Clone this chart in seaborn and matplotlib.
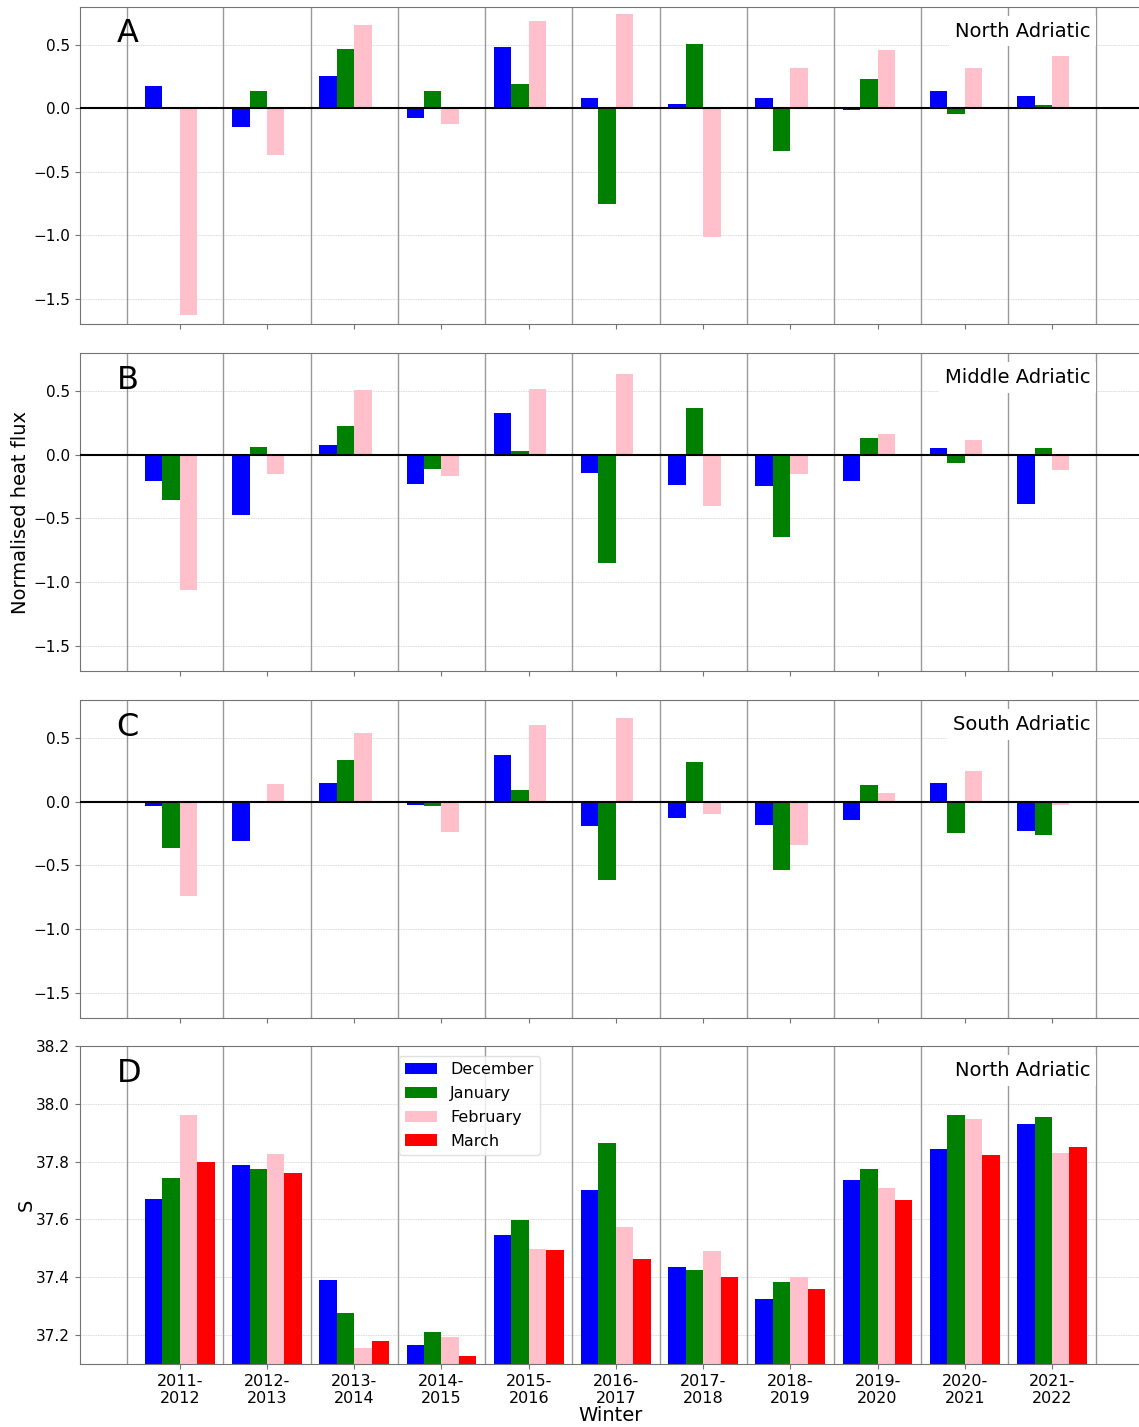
import numpy as np
import pandas as pd
import matplotlib
matplotlib.use("Agg")
import matplotlib.pyplot as plt
import seaborn as sns

# Winters on the x axis
winters = ["2011-\n2012", "2012-\n2013", "2013-\n2014", "2014-\n2015", "2015-\n2016",
           "2016-\n2017", "2017-\n2018", "2018-\n2019", "2019-\n2020", "2020-\n2021",
           "2021-\n2022"]
months = ["December", "January", "February", "March"]
month_colors = ["blue", "green", "pink", "red"]

# A: normalised heat flux, North Adriatic
north_dec = [0.18, -0.147, 0.259, -0.079, 0.484, 0.086, 0.034, 0.079, -0.01, 0.141, 0.102]
north_jan = [0.005, 0.139, 0.469, 0.134, 0.191, -0.754, 0.508, -0.335, 0.236, -0.045, 0.029]
north_feb = [-1.63, -0.364, 0.657, -0.12, 0.691, 0.743, -1.013, 0.319, 0.458, 0.322, 0.416]

# B: normalised heat flux, Middle Adriatic
middle_dec = [-0.206, -0.471, 0.079, -0.23, 0.331, -0.143, -0.238, -0.243, -0.206, 0.053, -0.389]
middle_jan = [-0.352, 0.063, 0.23, -0.111, 0.029, -0.854, 0.365, -0.646, 0.135, -0.061, 0.053]
middle_feb = [-1.066, -0.153, 0.511, -0.169, 0.519, 0.632, -0.405, -0.148, 0.161, 0.116, -0.122]

# C: normalised heat flux, South Adriatic
south_dec = [-0.037, -0.306, 0.149, -0.026, 0.364, -0.188, -0.131, -0.181, -0.144, 0.144, -0.23]
south_jan = [-0.361, 0.003, 0.325, -0.031, 0.092, -0.618, 0.312, -0.537, 0.128, -0.243, -0.262]
south_feb = [-0.741, 0.139, 0.542, -0.238, 0.605, 0.66, -0.099, -0.338, 0.071, 0.243, -0.024]

# D: salinity, North Adriatic
sal_dec = [37.672, 37.79, 37.389, 37.164, 37.546, 37.702, 37.434, 37.326, 37.737, 37.842, 37.93]
sal_jan = [37.742, 37.776, 37.277, 37.211, 37.597, 37.864, 37.426, 37.382, 37.776, 37.962, 37.954]
sal_feb = [37.96, 37.825, 37.156, 37.195, 37.497, 37.573, 37.491, 37.401, 37.709, 37.946, 37.83]
sal_mar = [37.80, 37.761, 37.181, 37.126, 37.494, 37.464, 37.401, 37.361, 37.666, 37.822, 37.85]

panel_letters = ["A", "B", "C", "D"]
region_names = ["North Adriatic", "Middle Adriatic", "South Adriatic", "North Adriatic"]


def long_table(series):
    rows = []
    for month, vals in series.items():
        for w, v in zip(winters, vals):
            rows.append({"winter": w, "month": month, "value": v})
    return pd.DataFrame(rows)


tables = [
    long_table({"December": north_dec, "January": north_jan, "February": north_feb}),
    long_table({"December": middle_dec, "January": middle_jan, "February": middle_feb}),
    long_table({"December": south_dec, "January": south_jan, "February": south_feb}),
    long_table({"December": sal_dec, "January": sal_jan, "February": sal_feb, "March": sal_mar}),
]

plt.rcParams["font.family"] = ["DejaVu Sans"]
palette = dict(zip(months, month_colors))

W, H = 1139, 1427
fig = plt.figure(figsize=(W / 100, H / 100), dpi=100)

# panel extents in pixels (top, bottom)
extents = [(7, 324), (353, 671), (700, 1018), (1046, 1364)]
left_px, right_px = 79.5, 1141
axes = []
for (top, bot) in extents:
    ax = fig.add_axes([left_px / W, 1 - bot / H, (right_px - left_px) / W, (bot - top) / H])
    axes.append(ax)

separators = [-0.6] + [i + 0.5 for i in range(len(winters))]

for i, (ax, df) in enumerate(zip(axes, tables)):
    sns.barplot(data=df, x="winter", y="value", hue="month", order=winters,
                hue_order=months, palette=palette, saturation=1, width=0.8,
                errorbar=None, legend=(i == 3), ax=ax, zorder=2)
    ax.set_xlim(-1.15, 11.02)
    for xs in separators:
        ax.axvline(xs, color="0.6", lw=1.0, zorder=1)
    ax.yaxis.grid(True, color="0.85", lw=0.6, ls=(0, (2, 1)), zorder=0)
    ax.set_axisbelow(True)
    for sp in ax.spines.values():
        sp.set_color("0.45")
    ax.tick_params(axis="both", colors="0.45", labelcolor="black")
    ax.tick_params(axis="y", labelsize=11)
    ax.tick_params(axis="x", labelsize=11.5)
    ax.set_xlabel("")
    ax.set_ylabel("")
    ax.text(0.035, 0.915, panel_letters[i], transform=ax.transAxes, fontsize=23,
            ha="left", va="center", zorder=5)
    ax.text(0.952, 0.924, region_names[i], transform=ax.transAxes, fontsize=14,
            ha="right", va="center", zorder=5,
            bbox=dict(boxstyle="square,pad=0.3", facecolor="white", edgecolor="none"))
    if i < 3:
        ax.axhline(0, color="black", lw=1.5, zorder=3)
        ax.set_ylim(-1.7, 0.8)
        ax.set_yticks([-1.5, -1.0, -0.5, 0.0, 0.5])
        ax.set_xticklabels([])
    else:
        ax.set_ylim(37.1, 38.2)
        ax.set_yticks(np.arange(37.2, 38.21, 0.2))
        ax.set_xlabel("Winter", fontsize=14, labelpad=0)
        ax.set_ylabel("S", fontsize=14, labelpad=0)
        leg = ax.legend(loc="upper left", bbox_to_anchor=(0.301, 0.969),
                        borderaxespad=0, fontsize=11.5, labelspacing=0.55,
                        title=None, framealpha=0.8)
        leg.get_frame().set_edgecolor("0.85")

axes[1].set_ylabel("Normalised heat flux", fontsize=14, labelpad=2)

fig.savefig("out.png", dpi=100)
